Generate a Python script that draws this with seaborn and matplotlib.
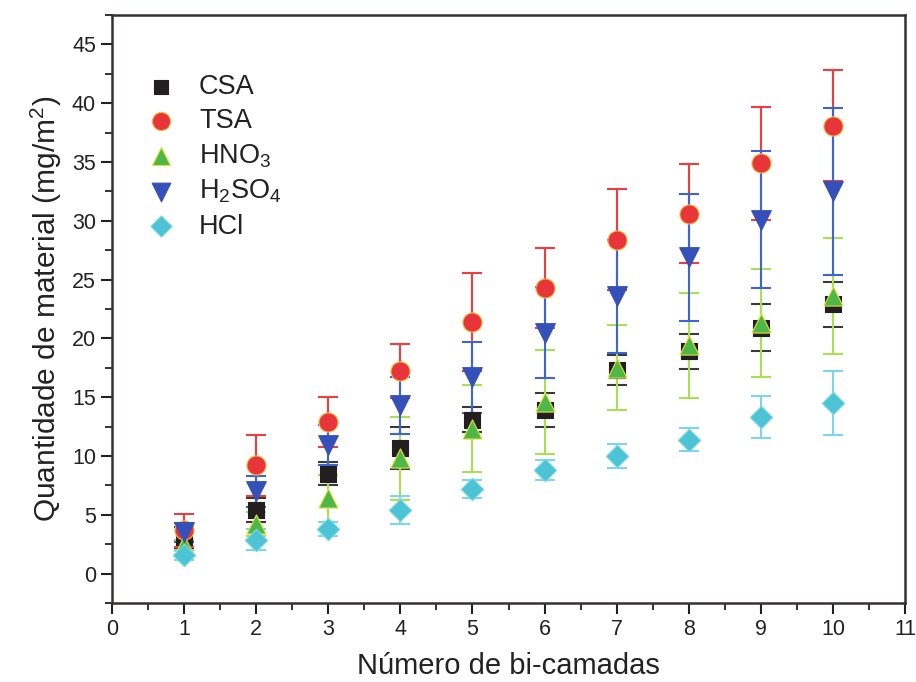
import numpy as np
import pandas as pd
import matplotlib
matplotlib.use("Agg")
import matplotlib.pyplot as plt
import seaborn as sns
from matplotlib.ticker import MultipleLocator

# ---- data ----
layers = [1, 2, 3, 4, 5, 6, 7, 8, 9, 10]
series_names = ["CSA", "TSA", "HNO3", "H2SO4", "HCl"]
legend_labels = ["CSA", "TSA", r"HNO$_3$", r"H$_2$SO$_4$", "HCl"]

csa = [3.1, 5.4, 8.5, 10.7, 13.1, 13.9, 17.3, 18.9, 20.9, 22.9]
csa_err = [0.9, 1.0, 1.0, 1.8, 1.1, 1.45, 1.3, 1.5, 2.0, 1.9]
tsa = [3.7, 9.2, 12.9, 17.2, 21.4, 24.3, 28.4, 30.6, 34.9, 38.1]
tsa_err = [1.4, 2.6, 2.1, 2.3, 4.2, 3.4, 4.3, 4.2, 4.8, 4.7]
hno3 = [2.4, 4.2, 6.4, 9.8, 12.3, 14.6, 17.5, 19.4, 21.3, 23.6]
hno3_err = [0.5, 1.0, 2.0, 3.5, 3.7, 4.4, 3.6, 4.5, 4.6, 4.9]
h2so4 = [3.5, 7.0, 10.9, 14.3, 16.7, 20.5, 23.6, 26.9, 30.1, 32.5]
h2so4_err = [0.8, 1.3, 1.7, 2.4, 3.0, 3.9, 4.8, 5.4, 5.8, 7.1]
hcl = [1.6, 2.9, 3.8, 5.4, 7.2, 8.8, 10.0, 11.4, 13.3, 14.5]
hcl_err = [0.4, 0.9, 0.6, 1.2, 0.8, 0.85, 1.0, 1.0, 1.8, 2.7]

x_ticks = list(range(0, 12))
y_ticks = list(range(0, 50, 5))

values = [csa, tsa, hno3, h2so4, hcl]
errors = [csa_err, tsa_err, hno3_err, h2so4_err, hcl_err]

df = pd.DataFrame({
    "x": np.tile(layers, len(series_names)),
    "y": np.concatenate(values),
    "err": np.concatenate(errors),
    "serie": np.repeat(series_names, len(layers)),
})

# ---- styles ----
face = {"CSA": "#231f20", "TSA": "#e8353b", "HNO3": "#4db848",
        "H2SO4": "#3550b8", "HCl": "#4cc4d6"}
edge = {"CSA": "#231f20", "TSA": "#f0c040", "HNO3": "#e8e040",
        "H2SO4": "#3550b8", "HCl": "#7ed8e0"}
ecol = {"CSA": "#3a3a3a", "TSA": "#f03c3c", "HNO3": "#a8e050",
        "H2SO4": "#3c64d8", "HCl": "#7ed4ea"}
markers = {"CSA": "s", "TSA": "o", "HNO3": "^", "H2SO4": "v", "HCl": "D"}
sizes = {"CSA": 120, "TSA": 190, "HNO3": 190, "H2SO4": 200, "HCl": 130}

sns.set_theme(style="ticks")
plt.rcParams["font.family"] = ["Liberation Sans", "DejaVu Sans"]
plt.rcParams["mathtext.default"] = "regular"

fig = plt.figure(figsize=(9.16, 6.82), dpi=100)
ax = fig.add_axes([0.1223, 0.1158, 0.8657, 0.8622])

for name, lab in zip(series_names, legend_labels):
    sub = df[df["serie"] == name]
    ax.errorbar(sub["x"], sub["y"], yerr=sub["err"], fmt="none",
                ecolor=ecol[name], elinewidth=1.5, capsize=7, capthick=1.5,
                zorder=2)
for name, lab in zip(series_names, legend_labels):
    sub = df[df["serie"] == name]
    sns.scatterplot(data=sub, x="x", y="y", ax=ax, marker=markers[name],
                    s=sizes[name], color=face[name], edgecolor=edge[name],
                    linewidth=0.8, label=lab, zorder=3)

ax.set_xlim(0, 11)
ax.set_ylim(-2.5, 47.5)
ax.set_xticks(x_ticks)
ax.set_yticks(y_ticks)
ax.xaxis.set_minor_locator(MultipleLocator(0.5))
ax.yaxis.set_minor_locator(MultipleLocator(2.5))
ax.tick_params(which="major", direction="out", length=8, width=1.5,
               labelsize=15.5, color="#222222", labelcolor="#222222")
ax.tick_params(which="minor", direction="out", length=5, width=1.3,
               color="#222222")
for sp in ax.spines.values():
    sp.set_linewidth(1.8)
    sp.set_color("#3a3030")

ax.set_xlabel("Número de bi-camadas", fontsize=21, color="#222222", labelpad=9)
ax.set_ylabel(r"Quantidade de material (mg/m$^2$)", fontsize=21.5,
              color="#222222", labelpad=6)

leg = ax.legend(loc="upper left", bbox_to_anchor=(0.014, 0.918), frameon=False,
                fontsize=19.5, handletextpad=0.4, labelspacing=0.3,
                markerscale=0.95, borderaxespad=0.0)
for t in leg.get_texts():
    t.set_color("#222222")

fig.savefig("out.png", dpi=100)
